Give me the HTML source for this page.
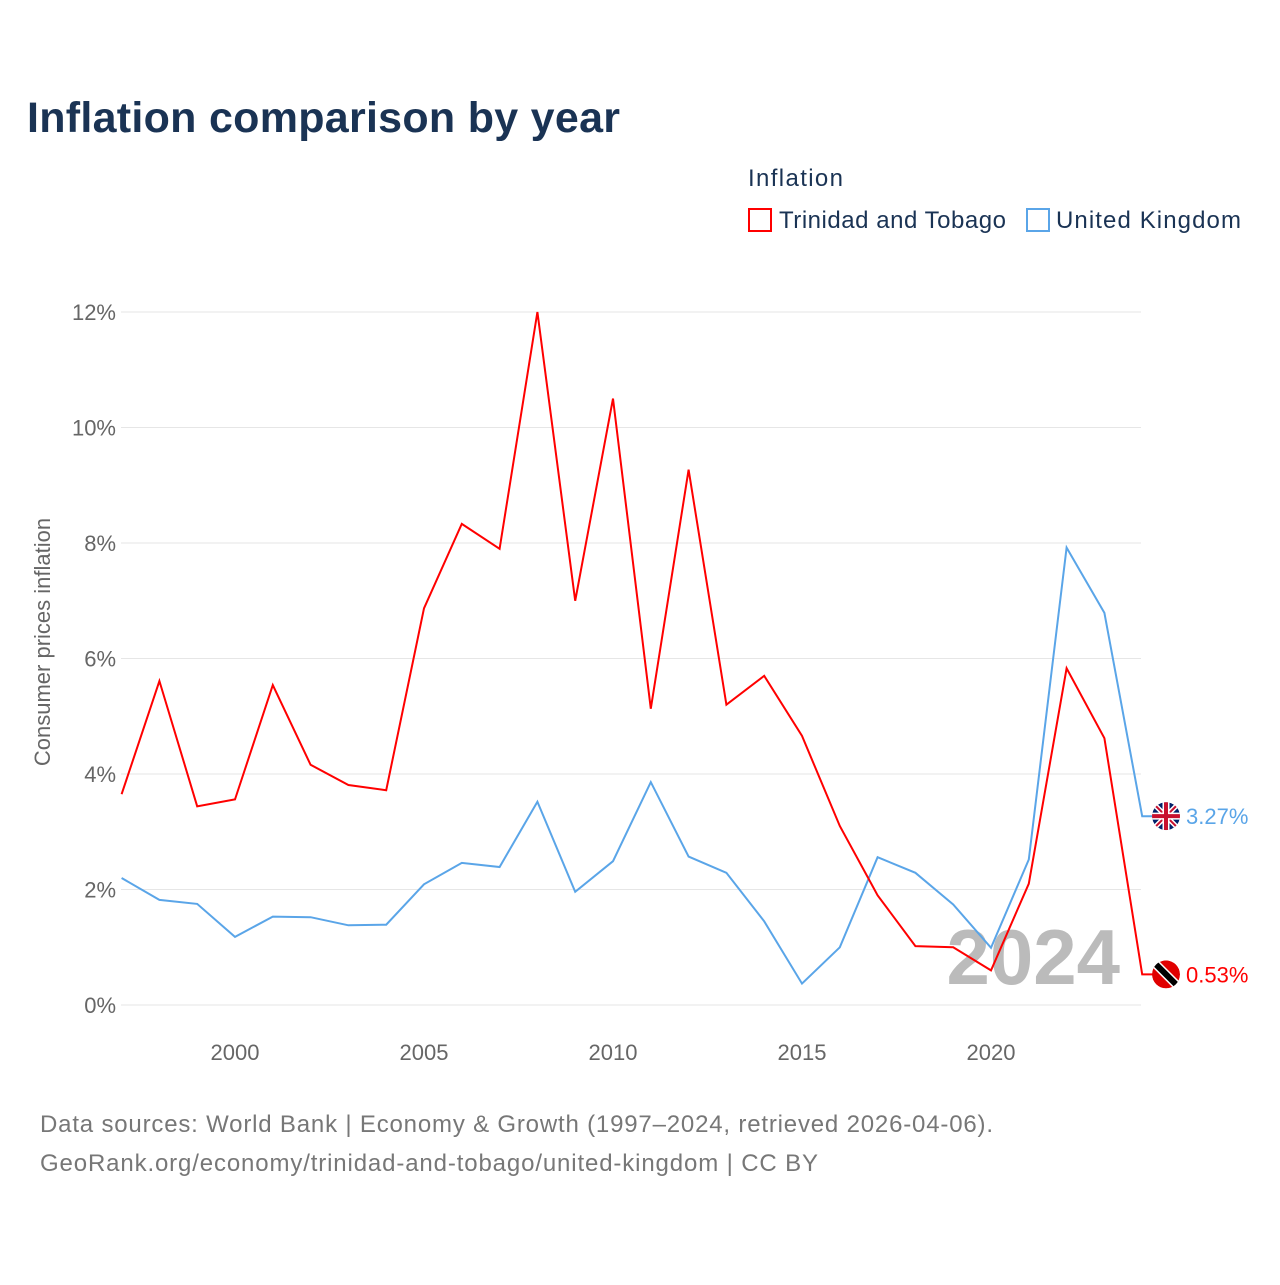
<!DOCTYPE html>
<html><head><meta charset="utf-8"><style>
body{margin:0;background:#fff;font-family:"Liberation Sans",sans-serif;}
svg text{font-family:"Liberation Sans",sans-serif;}
</style></head><body>
<svg id="c" width="1280" height="1280" xmlns="http://www.w3.org/2000/svg">
<defs><clipPath id="cl1"><circle cx="1166" cy="0" r="14"/></clipPath></defs>
<text x="27" y="132" font-size="43" font-weight="bold" fill="#1a3354" textLength="593">Inflation comparison by year</text>
<text x="748" y="186" font-size="24" fill="#1a3354" textLength="95">Inflation</text>
<g><rect x="749" y="209" width="22" height="22" fill="none" stroke="#ff0000" stroke-width="2"/><text x="779" y="228" font-size="24" fill="#1a3354" textLength="227">Trinidad and Tobago</text></g>
<g><rect x="1027" y="209" width="22" height="22" fill="none" stroke="#5aa5e8" stroke-width="2"/><text x="1056" y="228" font-size="24" fill="#1a3354" textLength="185">United Kingdom</text></g>
<text transform="translate(50,642) rotate(-90)" text-anchor="middle" font-size="22" fill="#666">Consumer prices inflation</text>
<g id="grid"></g><g id="xt"></g>
<text x="1120" y="984" text-anchor="end" font-size="78" font-weight="bold" fill="#bbbbbb">2024</text>
<g id="lines"></g>
<text x="40" y="1132" font-size="24" fill="#777" textLength="953">Data sources: World Bank | Economy &amp; Growth (1997–2024, retrieved 2026-04-06).</text>
<text x="40" y="1171" font-size="24" fill="#777" textLength="778">GeoRank.org/economy/trinidad-and-tobago/united-kingdom | CC BY</text>
</svg>
<script>
const years=[1997,1998,1999,2000,2001,2002,2003,2004,2005,2006,2007,2008,2009,2010,2011,2012,2013,2014,2015,2016,2017,2018,2019,2020,2021,2022,2023,2024];
const tt=[3.65,5.61,3.44,3.56,5.54,4.16,3.81,3.72,6.87,8.33,7.9,12.0,7.0,10.5,5.13,9.27,5.2,5.7,4.66,3.1,1.9,1.02,1.0,0.6,2.1,5.83,4.62,0.53];
const uk=[2.2,1.82,1.75,1.18,1.53,1.52,1.38,1.39,2.09,2.46,2.39,3.52,1.96,2.49,3.86,2.57,2.29,1.45,0.37,1.0,2.56,2.29,1.74,0.99,2.52,7.92,6.79,3.27];
const yTicks=[0,2,4,6,8,10,12];
const xTicks=[2000,2005,2010,2015,2020];
const X=y=>121.6+(y-1997)*37.8, Y=v=>1005-v*57.75;
const NS="http://www.w3.org/2000/svg";
function mk(t,a,p){const e=document.createElementNS(NS,t);for(const k in a)e.setAttribute(k,a[k]);p.appendChild(e);return e;}
const g=document.getElementById('grid');
yTicks.forEach(v=>{const l=mk('line',{x1:121,x2:1141,y1:Y(v),y2:Y(v),stroke:'#e6e6e6','stroke-width':1},g);


const t=mk('text',{x:116,y:Y(v)+8,'text-anchor':'end','font-size':22,fill:'#666'},g);t.textContent=v+'%';

});
const xt=document.getElementById('xt');
xTicks.forEach(v=>{const t=mk('text',{x:X(v),y:1060,'text-anchor':'middle','font-size':22,fill:'#666'},xt);t.textContent=v;

});
const L=document.getElementById('lines');
function series(d,c,name,flag){let p=d.map((v,i)=>(i?'L':'M')+X(years[i]).toFixed(1)+','+Y(v).toFixed(1)).join('');
const last=Y(d[d.length-1]);p+='L1155,'+last.toFixed(1);
const e=mk('path',{d:p,fill:'none',stroke:c,'stroke-width':2},L);


const f=mk('g',{transform:'translate(0,'+last+')'},L);


flag(f);
const t=mk('text',{x:1186,y:last+8,'font-size':22,fill:c},L);t.textContent=d[d.length-1].toFixed(2)+'%';

}
function ukFlag(f){const gg=mk('g',{'clip-path':'url(#cl1)'},f);
mk('circle',{cx:1166,cy:0,r:14,fill:'#012169'},gg);
mk('path',{d:'M1152,-14L1180,14M1180,-14L1152,14',stroke:'#fff','stroke-width':5},gg);
mk('path',{d:'M1152,-14L1180,14M1180,-14L1152,14',stroke:'#c8102e','stroke-width':2},gg);
mk('path',{d:'M1166,-14V14M1152,0H1180',stroke:'#fff','stroke-width':7},gg);
mk('path',{d:'M1166,-14V14M1152,0H1180',stroke:'#c8102e','stroke-width':4},gg);}
function ttFlag(f){const gg=mk('g',{'clip-path':'url(#cl1)'},f);
mk('circle',{cx:1166,cy:0,r:14,fill:'#e00000'},gg);
mk('path',{d:'M1154,-12L1178,12',stroke:'#fff','stroke-width':9},gg);
mk('path',{d:'M1154,-12L1178,12',stroke:'#000','stroke-width':6},gg);}
series(uk,'#5aa5e8','uk',ukFlag);
series(tt,'#ff0000','trinidad',ttFlag);
</script>
</body></html>
